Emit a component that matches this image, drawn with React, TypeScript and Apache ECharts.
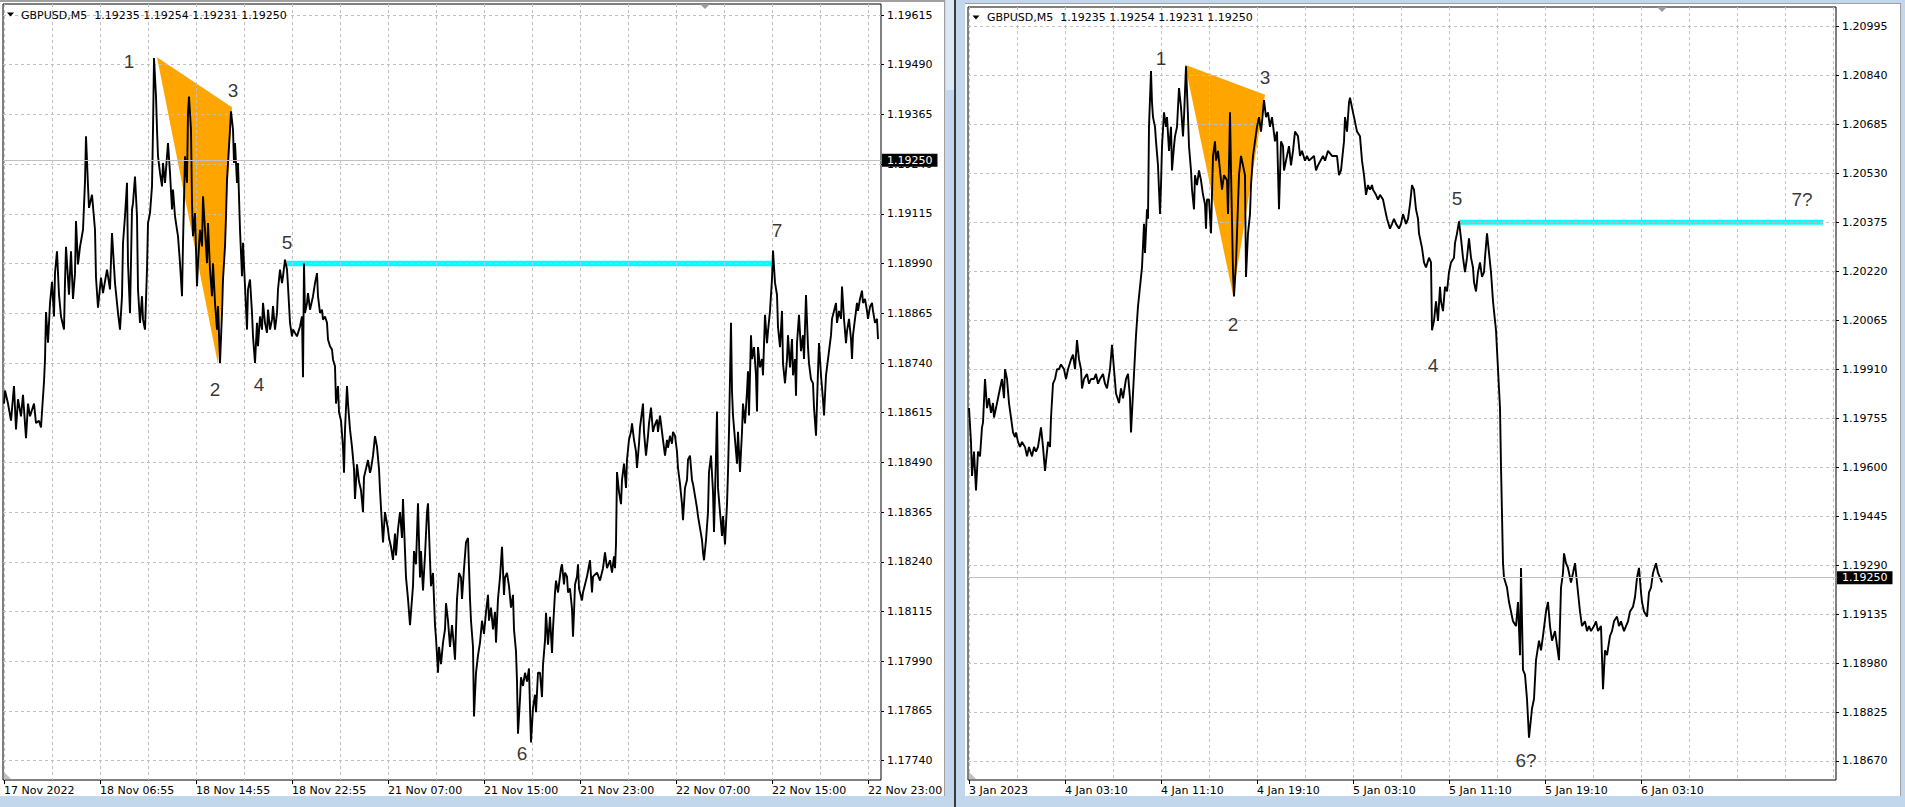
import React, { useEffect, useRef } from 'react';
import * as echarts from 'echarts';

const AXIS_FONT = '"DejaVu Sans", Verdana, sans-serif';
const MARK_FONT = '"Liberation Sans", Arial, sans-serif';

const headerText = 'GBPUSD,M5  1.19235 1.19254 1.19231 1.19250';
const currentPrice = 1.1925;

// ---------- Left chart: 17-22 Nov 2022 ----------
const leftTimeLabels = ['17 Nov 2022', '18 Nov 06:55', '18 Nov 14:55', '18 Nov 22:55', '21 Nov 07:00', '21 Nov 15:00', '21 Nov 23:00', '22 Nov 07:00', '22 Nov 15:00', '22 Nov 23:00'];
const leftLabelBars = [0, 96, 192, 288, 384, 480, 576, 672, 768, 864];
const leftGridBars = [0, 48, 96, 144, 192, 240, 288, 336, 384, 432, 480, 528, 576, 624, 672, 720, 768, 816, 864];
const leftPriceTicks = [1.1774, 1.17865, 1.1799, 1.18115, 1.1824, 1.18365, 1.1849, 1.18615, 1.1874, 1.18865, 1.1899, 1.19115, 1.1924, 1.19365, 1.1949, 1.19615];
const leftPrice: [number, number][] = [
  [0, 1.18638], [1, 1.18671], [4, 1.18638], [7, 1.18595], [10, 1.18682], [12, 1.18573], [14, 1.18649], [17, 1.18606], [19, 1.1866], [22, 1.18551], [24, 1.18638], [26, 1.18606], [30, 1.18638], [32, 1.18589], [35, 1.18595], [37, 1.18578], [38, 1.18617], [40, 1.18693], [41, 1.18748], [42, 1.18868], [44, 1.18791], [46, 1.1889], [48, 1.18944], [50, 1.18857], [51, 1.18966], [53, 1.19021], [55, 1.18912], [57, 1.18857], [60, 1.18824], [61, 1.18944], [62, 1.19032], [65, 1.18912], [67, 1.19021], [69, 1.18901], [71, 1.18966], [72, 1.19097], [74, 1.18988], [76, 1.19032], [79, 1.19075], [81, 1.19196], [82, 1.1931], [84, 1.19185], [85, 1.1913], [88, 1.19163], [91, 1.19075], [92, 1.18955], [94, 1.18879], [97, 1.18955],
  [99, 1.18916], [103, 1.18975], [106, 1.18925], [108, 1.19067], [111, 1.18941], [114, 1.18866], [116, 1.18824], [118, 1.18908], [119, 1.19042], [121, 1.19109], [123, 1.19193], [124, 1.18991], [126, 1.18866], [128, 1.19126], [129, 1.19142], [131, 1.19209], [133, 1.19109], [134, 1.18925], [136, 1.18841], [138, 1.18908], [139, 1.18849], [141, 1.18824], [143, 1.18975], [144, 1.19092], [146, 1.19117], [148, 1.19184], [149, 1.19327], [150, 1.19507], [152, 1.1941], [153, 1.19327], [154, 1.1926], [156, 1.19218], [158, 1.19184], [159, 1.19243], [161, 1.19193], [163, 1.1926], [164, 1.19293], [166, 1.19218], [168, 1.19126], [169, 1.19176], [171, 1.19109], [173, 1.19075], [174, 1.19059], [176, 1.18991], [178, 1.18908], [179, 1.19042], [181, 1.1926], [183, 1.19193], [184, 1.19369], [185, 1.1941], [187, 1.19327], [188, 1.19142], [189, 1.19059], [191, 1.19117], [193, 1.18933], [194, 1.18991], [196, 1.19075], [198, 1.19033], [199, 1.19159], [201, 1.19075], [203, 1.18991], [204, 1.19092], [206, 1.18975], [208, 1.18908], [209, 1.18991], [211, 1.18891], [213, 1.18824], [214, 1.18883], [216, 1.1874], [218, 1.18866], [219, 1.1895], [221, 1.19033], [222, 1.19109], [223, 1.19201], [225, 1.19285], [226, 1.19327], [227, 1.19373], [229, 1.19327], [230, 1.19243], [231, 1.19293], [233, 1.19193], [234, 1.19243], [236, 1.19075], [238, 1.18958], [239, 1.19042], [241, 1.18933], [243, 1.18824], [244, 1.18925], [246, 1.1895], [248, 1.18866], [249, 1.18807], [251, 1.1874], [253, 1.18841], [254, 1.18782], [256, 1.18857], [258, 1.18824], [259, 1.18891], [261, 1.18841], [263, 1.18816], [264, 1.18874], [266, 1.18824], [268, 1.18849], [269, 1.18883], [271, 1.18824], [273, 1.18866], [274, 1.18925], [276, 1.18975], [278, 1.18941], [279, 1.18958], [281, 1.19], [283, 1.18975], [284, 1.18933], [286, 1.18841], [288, 1.18807], [289, 1.18824], [293, 1.18807], [296, 1.18832], [298, 1.18857], [299, 1.18704], [300, 1.1899], [301, 1.18866], [303, 1.18891], [304, 1.18916], [306, 1.18874], [309, 1.18908], [311, 1.18941], [313, 1.18966], [314, 1.18908], [316, 1.18866], [318, 1.18874], [319, 1.18849], [321, 1.18857], [323, 1.18841], [324, 1.18799], [326, 1.18782], [328, 1.18774], [329, 1.18749], [331, 1.18732],
  [332, 1.18638], [334, 1.18682], [335, 1.18617], [337, 1.18595], [339, 1.18529], [340, 1.18464], [341, 1.18573], [343, 1.18682], [344, 1.18638], [346, 1.18573], [348, 1.18529], [350, 1.18474], [351, 1.18398], [353, 1.18485], [355, 1.18442], [357, 1.1842], [359, 1.18365], [360, 1.18453], [362, 1.18474], [364, 1.18496], [366, 1.18464], [367, 1.18474], [369, 1.18507], [371, 1.18556], [373, 1.18529], [375, 1.18474], [376, 1.1842], [378, 1.18332], [379, 1.18289], [381, 1.18365], [384, 1.18322], [385, 1.183], [387, 1.18278], [389, 1.18245], [391, 1.18311], [392, 1.18256], [394, 1.18322], [396, 1.18365], [398, 1.183], [399, 1.18398], [400, 1.18332], [402, 1.18201], [404, 1.18147], [406, 1.18081], [409, 1.18179], [410, 1.18267], [412, 1.18234], [414, 1.18387], [416, 1.18201], [417, 1.18267], [419, 1.18168], [421, 1.18256], [423, 1.18365], [424, 1.18387], [426, 1.18245], [427, 1.18179], [429, 1.18212], [431, 1.18081], [432, 1.18048], [434, 1.17961], [435, 1.18026], [437, 1.17983], [439, 1.18037], [441, 1.1807], [442, 1.18136], [444, 1.18092], [446, 1.18026], [448, 1.18081], [450, 1.18026], [451, 1.17994], [453, 1.18147], [455, 1.18212], [457, 1.18201], [458, 1.18147], [460, 1.18223], [462, 1.18289], [464, 1.183], [466, 1.18147], [467, 1.18092], [469, 1.18026], [470, 1.17851], [472, 1.17961], [474, 1.18005], [476, 1.18037], [478, 1.18092], [480, 1.18059], [482, 1.18114], [484, 1.18157], [485, 1.18092], [487, 1.18125], [489, 1.1807], [491, 1.18114], [492, 1.18037], [494, 1.18147], [496, 1.18201], [498, 1.18278], [500, 1.18157], [501, 1.18201], [503, 1.18212], [505, 1.18179], [507, 1.18125], [509, 1.18157], [510, 1.1807], [512, 1.18015], [513, 1.17939], [514, 1.17808], [516, 1.17895], [517, 1.1795], [519, 1.17928], [521, 1.17961], [523, 1.17939], [525, 1.17972], [526, 1.17873], [527, 1.17786], [529, 1.17873], [531, 1.17906], [532, 1.17862], [534, 1.17961], [536, 1.17961],
  [538, 1.179], [539, 1.17981], [541, 1.18042], [542, 1.18112], [544, 1.18032], [546, 1.18102], [548, 1.18011], [549, 1.18072], [551, 1.18163], [552, 1.18193], [554, 1.18163], [557, 1.18224], [558, 1.18234], [560, 1.18183], [561, 1.18213], [563, 1.18203], [564, 1.18163], [566, 1.18173], [568, 1.18122], [569, 1.18052], [570, 1.18112], [571, 1.18183], [573, 1.18203], [574, 1.18234], [575, 1.18173], [578, 1.18143], [579, 1.18163], [581, 1.18183], [583, 1.18203], [586, 1.18244], [588, 1.18163], [589, 1.18203], [593, 1.18213], [596, 1.18193], [599, 1.18224], [601, 1.18264], [603, 1.18224], [606, 1.18244], [608, 1.18213], [610, 1.18254], [611, 1.18224], [612, 1.18284], [613, 1.18466], [615, 1.18416], [617, 1.18385], [618, 1.18446], [620, 1.18487], [622, 1.18426], [623, 1.18497], [625, 1.18547], [627, 1.18567], [628, 1.18588], [630, 1.18547], [632, 1.18517], [633, 1.18476], [635, 1.18537], [636, 1.18578], [638, 1.18618], [639, 1.18638], [640, 1.18567], [642, 1.18507], [644, 1.18557], [645, 1.18588], [647, 1.18628], [649, 1.18567], [650, 1.18578], [653, 1.18598], [654, 1.18567], [656, 1.18608], [658, 1.18567], [659, 1.18547], [661, 1.18507], [663, 1.18547], [664, 1.18527], [666, 1.18557], [668, 1.18537], [669, 1.18567], [671, 1.18557], [673, 1.18517], [674, 1.18476], [676, 1.18436], [678, 1.18385], [679, 1.18345], [681, 1.18426], [683, 1.18446], [684, 1.18497], [686, 1.18507], [688, 1.18446], [689, 1.18436], [691, 1.18406], [693, 1.18375], [694, 1.18355], [696, 1.18325], [698, 1.18295], [699, 1.18264], [700, 1.18244], [702, 1.18295], [704, 1.18365], [705, 1.18466], [707, 1.18507], [709, 1.18416], [710, 1.18315], [712, 1.18507], [713, 1.18618], [714, 1.18426], [716, 1.18365], [718, 1.18305], [719, 1.18355], [721, 1.18284], [723, 1.18385], [724, 1.18466], [725, 1.18567], [727, 1.18841], [728, 1.18669], [729, 1.18608], [731, 1.18547], [733, 1.18487], [734, 1.18567], [736, 1.18466], [738, 1.18567], [739, 1.18638], [741, 1.18588], [743, 1.18669], [744, 1.18719], [745, 1.18608], [747, 1.1881], [748, 1.1875], [750, 1.1878], [752, 1.18709], [753, 1.18618], [754, 1.1878], [756, 1.18729], [758, 1.1875], [759, 1.18709], [761, 1.18861], [763, 1.1879], [764, 1.1882], [766, 1.18871], [768, 1.18952], [769, 1.19023], [771, 1.18942], [773, 1.18911], [774, 1.1883], [776, 1.1878], [778, 1.18871], [779, 1.18739], [781, 1.18689], [783, 1.1875], [784, 1.1881], [786, 1.18729], [788, 1.188], [789, 1.18709], [791, 1.1875], [792, 1.18658], [793, 1.1879], [795, 1.18861], [797, 1.1877], [799, 1.1881], [800, 1.1875], [802, 1.18911], [804, 1.1878], [805, 1.18739], [807, 1.18699], [809, 1.18689], [810, 1.18628], [812, 1.18557], [814, 1.18719], [815, 1.1879], [817, 1.18709], [819, 1.18648], [820, 1.18608], [822, 1.18709], [823, 1.18729], [825, 1.1877], [827, 1.1881], [828, 1.18851], [830, 1.18871], [832, 1.18891], [833, 1.18841], [835, 1.18871], [837, 1.18851], [838, 1.18932], [840, 1.18851], [842, 1.1879], [843, 1.1882], [845, 1.18851], [847, 1.188], [848, 1.1875], [849, 1.1881], [851, 1.18851], [853, 1.18891], [854, 1.18871], [856, 1.18901], [858, 1.18922], [859, 1.18891], [861, 1.18901], [863, 1.18871], [864, 1.18851], [866, 1.18881], [868, 1.18891], [869, 1.18871], [871, 1.18841], [873, 1.18851], [874, 1.188],
];
const leftTriangle: [number, number][] = [[153, 1.19509], [228, 1.19383], [214, 1.18737]];
const leftLevel: [number, number][] = [[283, 1.1899], [767, 1.1899]];
const leftMarkTexts = ['1', '2', '3', '4', '5', '6', '7'];
const leftMarkBars = [125, 211, 229, 255, 283, 518, 773];
const leftMarkPrices = [1.19497, 1.18674, 1.19426, 1.18685, 1.19044, 1.17757, 1.19073];

// ---------- Right chart: 3-6 Jan 2023 ----------
const rightTimeLabels = ['3 Jan 2023', '4 Jan 03:10', '4 Jan 11:10', '4 Jan 19:10', '5 Jan 03:10', '5 Jan 11:10', '5 Jan 19:10', '6 Jan 03:10'];
const rightLabelBars = [0, 96, 192, 288, 384, 480, 576, 672];
const rightGridBars = [0, 48, 96, 144, 192, 240, 288, 336, 384, 432, 480, 528, 576, 624, 672, 720, 768, 816, 864];
const rightPriceTicks = [1.1867, 1.18825, 1.1898, 1.19135, 1.1929, 1.19445, 1.196, 1.19755, 1.1991, 1.20065, 1.2022, 1.20375, 1.2053, 1.20685, 1.2084, 1.20995];
const rightPrice: [number, number][] = [
  [0, 1.19787], [2, 1.1968], [3, 1.19572], [5, 1.19649], [7, 1.19526], [9, 1.19649], [11, 1.19634], [13, 1.19726], [14, 1.19741], [16, 1.19879], [18, 1.19787], [20, 1.19818], [22, 1.19772], [24, 1.19803], [25, 1.19757], [27, 1.19787], [29, 1.19818], [31, 1.19849], [33, 1.19879], [35, 1.19818], [36, 1.1991], [38, 1.19879], [40, 1.19803], [42, 1.19757], [44, 1.1971], [46, 1.19695], [47, 1.1971], [49, 1.1968], [51, 1.19664], [53, 1.1968], [56, 1.19664], [58, 1.19634], [60, 1.19664], [63, 1.19634], [65, 1.19664], [67, 1.19649], [69, 1.19664], [72, 1.19726], [74, 1.19664], [76, 1.19588], [79, 1.1968], [81, 1.19664], [82, 1.19757], [84, 1.19864], [86, 1.19879], [88, 1.1991], [90, 1.1991], [92, 1.19925], [95, 1.1991], [97, 1.19879], [99, 1.1991], [102, 1.19941], [104, 1.19956], [106, 1.1991], [108, 1.20002], [110, 1.19941], [112, 1.1991], [113, 1.19849], [115, 1.19879], [118, 1.19895], [120, 1.19864], [122, 1.19879], [125, 1.19879], [127, 1.19895], [129, 1.19864], [131, 1.19879], [134, 1.19895], [136, 1.19864], [138, 1.19849], [141, 1.1991], [143, 1.19987], [145, 1.1991], [147, 1.19833], [150, 1.19803], [152, 1.19849], [154, 1.19818], [157, 1.19879], [159, 1.19895], [161, 1.19818], [162, 1.1971], [164, 1.19833], [165, 1.19895], [167, 1.20017], [168, 1.20063], [169, 1.20109], [171, 1.20171], [173, 1.20232], [175, 1.2037], [176, 1.20278], [178, 1.20416], [179, 1.20386], [180, 1.20677], [182, 1.20854], [183, 1.20754], [184, 1.20708], [186, 1.20677], [187, 1.20631], [189, 1.20555], [191, 1.20401], [192, 1.20493], [193, 1.20616], [195, 1.20723], [197, 1.20677], [198, 1.20708], [200, 1.20601], [202, 1.20677], [203, 1.20539], [205, 1.20616], [206, 1.20647], [208, 1.20677], [210, 1.208], [212, 1.20739], [214, 1.20647], [215, 1.20708], [217, 1.20869], [219, 1.20708], [220, 1.20616], [222, 1.20539], [223, 1.20478], [225, 1.20416], [226, 1.20524], [228, 1.20493], [230, 1.20539], [232, 1.20508], [234, 1.20462], [236, 1.20432], [237, 1.20355], [238, 1.20447], [240, 1.20447], [242, 1.2034], [244, 1.20585], [246, 1.20631], [247, 1.2057], [249, 1.20601], [251, 1.20539], [253, 1.20478], [255, 1.20524], [258, 1.20508], [259, 1.20401], [261, 1.20723], [262, 1.20539], [264, 1.20217], [265, 1.2014], [267, 1.20248], [269, 1.20432], [270, 1.20524], [272, 1.20585], [274, 1.20555], [276, 1.20524], [277, 1.20202], [279, 1.2034], [281, 1.20401], [282, 1.20493], [284, 1.20585], [286, 1.20631], [288, 1.20677], [290, 1.20708], [292, 1.20662], [293, 1.20693], [295, 1.20762], [297, 1.20708], [299, 1.20723], [301, 1.20677], [303, 1.20708], [306, 1.20631], [308, 1.20662], [310, 1.20416], [312, 1.20631], [314, 1.20616], [315, 1.20539], [317, 1.2057], [320, 1.20616], [322, 1.20555], [324, 1.20601], [326, 1.20662], [329, 1.20647], [331, 1.20585], [333, 1.20601], [336, 1.2057], [338, 1.20585], [340, 1.2057], [345, 1.20585], [347, 1.20539], [349, 1.20555], [354, 1.20585], [356, 1.2057], [359, 1.20601], [363, 1.20585], [368, 1.20585], [370, 1.20524], [372, 1.20539], [375, 1.20631], [376, 1.20708], [378, 1.20662], [380, 1.20754], [381, 1.20769], [384, 1.20723], [386, 1.20693], [388, 1.20662], [391, 1.20647], [393, 1.2057], [395, 1.20524], [397, 1.20462], [399, 1.20493], [401, 1.20478], [403, 1.20493], [404, 1.20478], [407, 1.20462], [409, 1.20447], [411, 1.20462], [414, 1.20447], [416, 1.20416], [418, 1.20386], [421, 1.20355], [423, 1.2037], [425, 1.20386], [427, 1.2037], [430, 1.20355], [432, 1.2037], [434, 1.20401], [437, 1.2037], [439, 1.20386], [441, 1.20432], [443, 1.20493], [445, 1.20478], [447, 1.20416], [449, 1.20386], [450, 1.2034], [453, 1.20294], [455, 1.20248], [457, 1.20232], [460, 1.20263], [462, 1.20248], [463, 1.20033], [465, 1.20063], [467, 1.20125], [469, 1.20063], [471, 1.20171], [472, 1.20125], [474, 1.20094], [476, 1.20171], [478, 1.20156], [480, 1.20217], [482, 1.20248], [485, 1.20263], [486, 1.20309], [488, 1.2034], [490, 1.20378], [492, 1.20324], [494, 1.20263], [496, 1.20217], [498, 1.20263], [500, 1.20324], [502, 1.20263], [504, 1.20232], [505, 1.20186], [507, 1.20156], [509, 1.20217], [511, 1.20248], [513, 1.20202], [515, 1.20217], [516, 1.20263], [518, 1.2034], [520, 1.20278], [522, 1.20217], [524, 1.20125], [526, 1.20063], [527, 1.20033], [529, 1.1991], [531, 1.19787], [532, 1.19603], [533, 1.1945], [534, 1.19296], [535, 1.1925], [538, 1.19219], [540, 1.19173], [542, 1.19143], [544, 1.19112], [547, 1.19097], [549, 1.19173], [551, 1.19005], [552, 1.19281], [554, 1.18958], [556, 1.18943], [558, 1.18866], [560, 1.18744], [563, 1.18836], [565, 1.18866], [567, 1.18989], [570, 1.19051], [572, 1.1902], [574, 1.19066], [577, 1.19143], [579, 1.19173], [581, 1.19097], [583, 1.19051], [586, 1.19081], [588, 1.19035], [590, 1.18989], [592, 1.19219], [594, 1.19265], [595, 1.19327], [597, 1.19296], [599, 1.19281], [602, 1.19235], [604, 1.19265], [606, 1.19296], [609, 1.19204], [611, 1.19143], [613, 1.19097], [616, 1.19112], [618, 1.19081], [620, 1.19097], [622, 1.19081], [625, 1.19097], [627, 1.19112], [629, 1.19081], [632, 1.19097], [634, 1.18897], [636, 1.1902], [638, 1.19005], [641, 1.19066], [643, 1.19081], [645, 1.19112], [648, 1.19127], [650, 1.19097], [652, 1.19112], [655, 1.19081], [657, 1.19097], [659, 1.19112], [661, 1.19143], [664, 1.19158], [666, 1.19189], [668, 1.1925], [670, 1.19281], [672, 1.19204], [673, 1.19173], [675, 1.19143], [678, 1.19127], [680, 1.19204], [682, 1.19219], [684, 1.19265], [687, 1.19296], [689, 1.19265], [691, 1.1925], [693, 1.19235],
];
const rightTriangle: [number, number][] = [[216, 1.20874], [296, 1.20779], [264, 1.20145]];
const rightLevel: [number, number][] = [[490, 1.20375], [854, 1.20375]];
const rightMarkTexts = ['1', '2', '3', '4', '5', '6?', '7?'];
const rightMarkBars = [192, 264, 296, 464, 488, 557, 833];
const rightMarkPrices = [1.20892, 1.20053, 1.20834, 1.19922, 1.2045, 1.18673, 1.20447];

type Panel = {
  left: number; top: number; width: number; height: number;
  xMin: number; xMax: number; yMin: number; yMax: number;
  timeLabels: string[]; labelBars: number[]; gridBars: number[]; priceTicks: number[];
  price: [number, number][]; triangle: [number, number][]; level: [number, number][];
  levelWidth: number; markTexts: string[]; markBars: number[]; markPrices: number[];
};

const panels: Panel[] = [
  {
    left: 3, top: 4, width: 878, height: 776, xMin: -1, xMax: 877, yMin: 1.176915, yMax: 1.196427,
    timeLabels: leftTimeLabels, labelBars: leftLabelBars, gridBars: leftGridBars, priceTicks: leftPriceTicks,
    price: leftPrice, triangle: leftTriangle, level: leftLevel, levelWidth: 5.5,
    markTexts: leftMarkTexts, markBars: leftMarkBars, markPrices: leftMarkPrices,
  },
  {
    left: 968, top: 7, width: 868, height: 773, xMin: -1, xMax: 867, yMin: 1.186098, yMax: 1.210564,
    timeLabels: rightTimeLabels, labelBars: rightLabelBars, gridBars: rightGridBars, priceTicks: rightPriceTicks,
    price: rightPrice, triangle: rightTriangle, level: rightLevel, levelWidth: 5,
    markTexts: rightMarkTexts, markBars: rightMarkBars, markPrices: rightMarkPrices,
  },
];

function buildOption() {
  const grid: any[] = [];
  const xAxis: any[] = [];
  const yAxis: any[] = [];
  const series: any[] = [];
  const dash = { color: '#c0c0c0', type: [3, 3], width: 1 };

  panels.forEach((p, i) => {
    grid.push({
      left: p.left, top: p.top, width: p.width, height: p.height,
      show: true, borderColor: '#000', borderWidth: 1, backgroundColor: 'transparent', z: 2,
    });
    xAxis.push({
      type: 'value', gridIndex: i, min: p.xMin, max: p.xMax, position: 'bottom', z: 2,
      axisLine: { show: false, onZero: false },
      axisTick: { show: true, length: 4, lineStyle: { color: '#000' }, customValues: p.labelBars },
      axisLabel: {
        show: true, customValues: p.labelBars, align: 'left', margin: 4, color: '#000',
        fontFamily: AXIS_FONT, fontSize: 11, lineHeight: 13,
        formatter: (v: number) => {
          const k = p.labelBars.indexOf(Math.round(v));
          return k >= 0 ? p.timeLabels[k] : '';
        },
      },
      splitLine: { show: false },
    });
    xAxis.push({
      type: 'value', gridIndex: i, min: p.xMin, max: p.xMax, position: 'top', z: 2,
      axisLine: { show: false, onZero: false },
      axisTick: { show: false, customValues: p.gridBars },
      axisLabel: { show: false, customValues: p.gridBars },
      splitLine: { show: true, lineStyle: dash },
    });
    yAxis.push({
      type: 'value', gridIndex: i, min: p.yMin, max: p.yMax, position: 'right', z: 2,
      axisLine: { show: false, onZero: false },
      axisTick: { show: true, length: 3, lineStyle: { color: '#000' }, customValues: p.priceTicks },
      axisLabel: {
        show: true, customValues: p.priceTicks, margin: 6, color: '#000',
        fontFamily: AXIS_FONT, fontSize: 11, formatter: (v: number) => v.toFixed(5),
      },
      splitLine: { show: true, lineStyle: dash },
    });

    const xi = i * 2;
    series.push({
      type: 'custom', xAxisIndex: xi, yAxisIndex: i, z: 1, silent: true, clip: false,
      data: [p.triangle[0]],
      renderItem: (_params: any, api: any) => ({
        type: 'polygon',
        shape: { points: p.triangle.map((v) => api.coord(v)) },
        style: { fill: '#ffa500' },
      }),
    });
    series.push({
      type: 'line', xAxisIndex: xi, yAxisIndex: i, z: 1, silent: true,
      data: p.level, symbol: 'none', lineStyle: { color: '#00ffff', width: p.levelWidth },
    });
    series.push({
      type: 'line', xAxisIndex: xi, yAxisIndex: i, z: 3, silent: true,
      data: p.price, symbol: 'none',
      lineStyle: { color: '#000', width: 1.9 },
      markLine: {
        silent: true, symbol: ['none', 'none'], precision: 5,
        data: [{ yAxis: currentPrice }],
        lineStyle: { color: '#c0c0c0', type: 'solid', width: 1 },
        label: {
          show: true, position: 'end', distance: 1, backgroundColor: '#000', color: '#fff',
          padding: [1, 5, 1, 5], fontFamily: AXIS_FONT, fontSize: 11, lineHeight: 11,
          formatter: () => currentPrice.toFixed(5),
        },
      },
    });
    series.push({
      type: 'scatter', xAxisIndex: xi, yAxisIndex: i, z: 4, silent: true,
      data: p.markTexts.map((t, k) => ({ name: t, value: [p.markBars[k], p.markPrices[k]] })),
      symbolSize: 1, itemStyle: { color: 'rgba(0,0,0,0)' },
      label: {
        show: true, position: 'inside', formatter: '{b}', color: '#000',
        fontFamily: MARK_FONT, fontSize: 19,
      },
    });
  });

  const gray = '#a0a0a0';
  const graphic: any[] = [
    { type: 'rect', z: 0, silent: true, shape: { x: 0, y: 0, width: 944, height: 796 }, style: { fill: '#fff' } },
    { type: 'rect', z: 0, silent: true, shape: { x: 0, y: 0, width: 944, height: 2 }, style: { fill: gray } },
    { type: 'rect', z: 0, silent: true, shape: { x: 944, y: 0, width: 1, height: 796 }, style: { fill: gray } },
    { type: 'rect', z: 0, silent: true, shape: { x: 946, y: 0, width: 8, height: 90 }, style: { fill: '#dce8f5' } },
    { type: 'rect', z: 0, silent: true, shape: { x: 954, y: 0, width: 2, height: 807 }, style: { fill: '#3a3a3a' } },
    { type: 'rect', z: 0, silent: true, shape: { x: 965, y: 3, width: 935, height: 793 }, style: { fill: '#fff' } },
    { type: 'rect', z: 0, silent: true, shape: { x: 965, y: 3, width: 935, height: 1 }, style: { fill: gray } },
    { type: 'rect', z: 0, silent: true, shape: { x: 1900, y: 3, width: 1, height: 793 }, style: { fill: gray } },
    { type: 'polygon', z: 10, silent: true, shape: { points: [[7, 12.5], [14, 12.5], [10.5, 16.5]] }, style: { fill: '#000' } },
    { type: 'polygon', z: 10, silent: true, shape: { points: [[972.5, 15.5], [979.5, 15.5], [976, 19.5]] }, style: { fill: '#000' } },
    { type: 'text', z: 10, silent: true, x: 21, y: 15, style: { text: headerText, fill: '#000', font: '11px "DejaVu Sans"', align: 'left', verticalAlign: 'middle' } },
    { type: 'text', z: 10, silent: true, x: 987, y: 17.5, style: { text: headerText, fill: '#000', font: '11px "DejaVu Sans"', align: 'left', verticalAlign: 'middle' } },
    { type: 'polygon', z: 10, silent: true, shape: { points: [[700, 4], [710, 4], [705, 9]] }, style: { fill: '#9a9a9a' } },
    { type: 'polygon', z: 10, silent: true, shape: { points: [[1657, 7], [1667, 7], [1662, 12]] }, style: { fill: '#9a9a9a' } },
    { type: 'polygon', z: 10, silent: true, shape: { points: [[4, 772], [4, 779], [11, 779]] }, style: { fill: '#c0c0c0' } },
    { type: 'polygon', z: 10, silent: true, shape: { points: [[969, 772], [969, 779], [976, 779]] }, style: { fill: '#c0c0c0' } },
  ];

  return {
    animation: false,
    backgroundColor: '#c3d7ec',
    grid, xAxis, yAxis, series, graphic,
  };
}

export default function App() {
  const ref = useRef<HTMLDivElement>(null);
  useEffect(() => {
    if (!ref.current) return;
    const chart = echarts.init(ref.current, undefined, { renderer: 'svg' });
    chart.setOption(buildOption() as any);
    return () => chart.dispose();
  }, []);
  return (
    <div
      ref={ref}
      style={{ position: 'absolute', left: 0, top: 0, width: 1905, height: 807 }}
    />
  );
}
